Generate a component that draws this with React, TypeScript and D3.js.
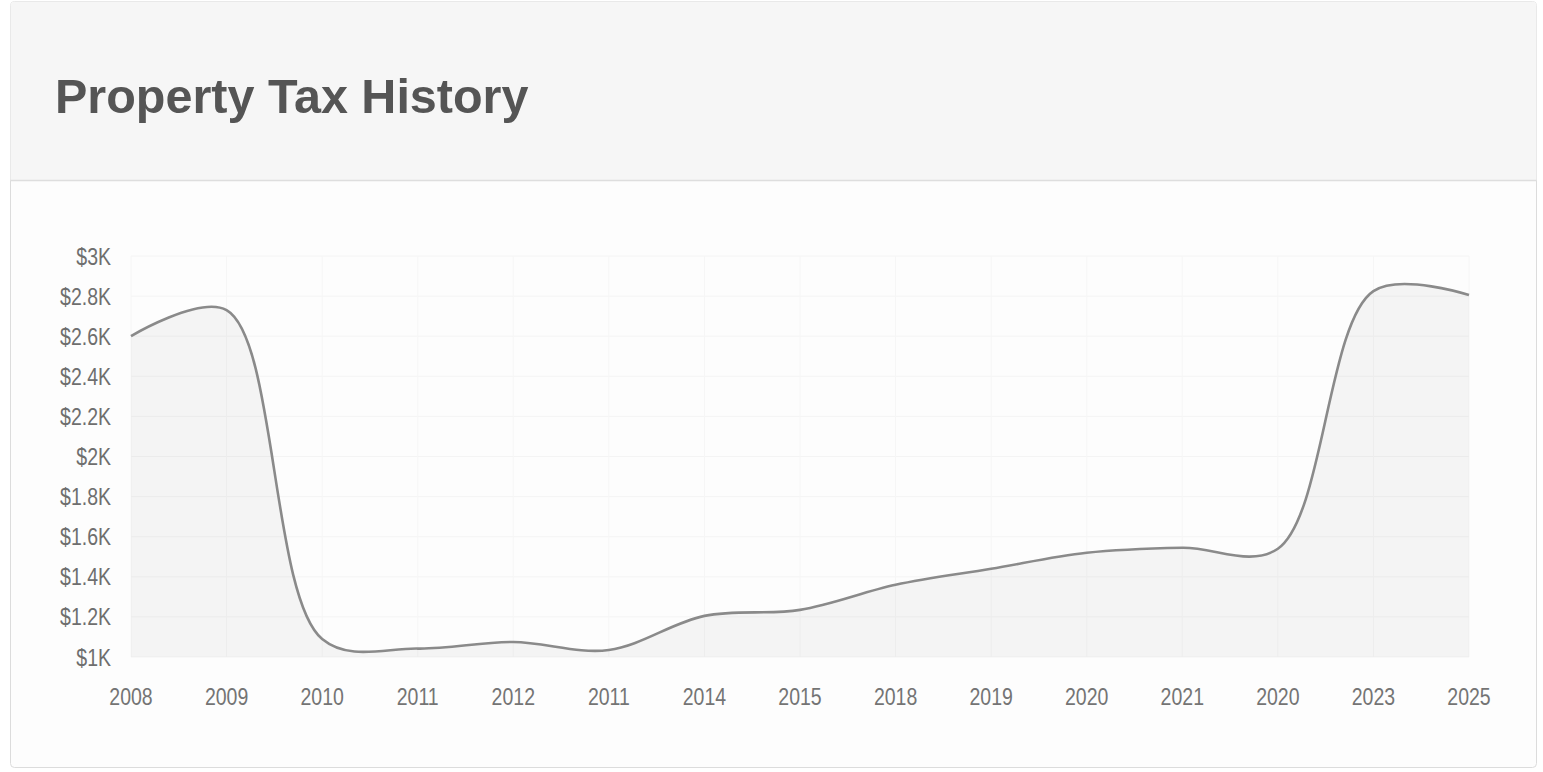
import React from "react";
import * as d3 from "d3";

const yearLabels = ["2008", "2009", "2010", "2011", "2012", "2011", "2014", "2015", "2018", "2019", "2020", "2021", "2020", "2023", "2025"];
const taxValues = [2600, 2730, 1090, 1042, 1075, 1035, 1205, 1235, 1360, 1440, 1520, 1545, 1540, 2825, 2805];
const yTickValues = [1000, 1200, 1400, 1600, 1800, 2000, 2200, 2400, 2600, 2800, 3000];
const chartTitle = "Property Tax History";

const W = 1543;
const H = 772;

export default function App() {
  const idx = yearLabels.map((_, i) => i);
  const x = d3.scalePoint<number>().domain(idx).range([131, 1469]);
  const y = d3.scaleLinear().domain([1000, 3000]).range([657, 256]);
  const fmt = (v: number) => `$${+(v / 1000).toFixed(1)}K`;

  const curve = d3.curveCatmullRom.alpha(0.5);
  const line = d3
    .line<number>()
    .x((_, i) => x(i) as number)
    .y((d) => y(d))
    .curve(curve);
  const area = d3
    .area<number>()
    .x((_, i) => x(i) as number)
    .y0(y(1000))
    .y1((d) => y(d))
    .curve(curve);

  const font = "'Liberation Sans', Arial, Helvetica, sans-serif";

  return (
    <svg
      width={W}
      height={H}
      style={{ position: "absolute", left: 0, top: 0, display: "block", background: "#ffffff" }}
    >
      {/* card */}
      <rect x={10.5} y={1.5} width={1526} height={766} rx={4} fill="#fdfdfd" stroke="#dcdcdc" strokeWidth={1} />
      <path d="M10.5,180.5 V5.5 a4,4 0 0 1 4,-4 H1532.5 a4,4 0 0 1 4,4 V180.5 Z" fill="#f6f6f6" />
      <line x1={10.5} x2={1536.5} y1={180.5} y2={180.5} stroke="#dedede" strokeWidth={1.5} />
      <text x={55} y={113} fontFamily={font} fontWeight={700} fontSize={48.5} fill="#555555">
        {chartTitle}
      </text>

      {/* grid */}
      <g>
        {yTickValues.map((t) => (
          <line key={"gy" + t} x1={131} x2={1469} y1={y(t)} y2={y(t)} stroke="#f4f4f4" strokeWidth={1} />
        ))}
        {idx.map((i) => (
          <line key={"gx" + i} x1={x(i)} x2={x(i)} y1={256} y2={657} stroke="#f6f6f6" strokeWidth={1} />
        ))}
      </g>

      {/* area + line */}
      <path d={area(taxValues) || ""} fill="#000000" fillOpacity={0.035} />
      <path d={line(taxValues) || ""} fill="none" stroke="#8a8a8a" strokeWidth={2.6} strokeLinejoin="round" />

      {/* y axis labels */}
      {yTickValues.map((t) => (
        <text
          key={"yl" + t}
          transform={`translate(111,${y(t)}) scale(1,1.22)`}
          textAnchor="end"
          dy="0.36em"
          fontFamily={font}
          fontSize={19.5}
          fill="#6e6e6e"
        >
          {fmt(t)}
        </text>
      ))}

      {/* x axis labels */}
      {idx.map((i) => (
        <text
          key={"xl" + i}
          transform={`translate(${x(i)},696) scale(1,1.22)`}
          textAnchor="middle"
          dy="0.36em"
          fontFamily={font}
          fontSize={19.5}
          fill="#747474"
        >
          {yearLabels[i]}
        </text>
      ))}
    </svg>
  );
}
